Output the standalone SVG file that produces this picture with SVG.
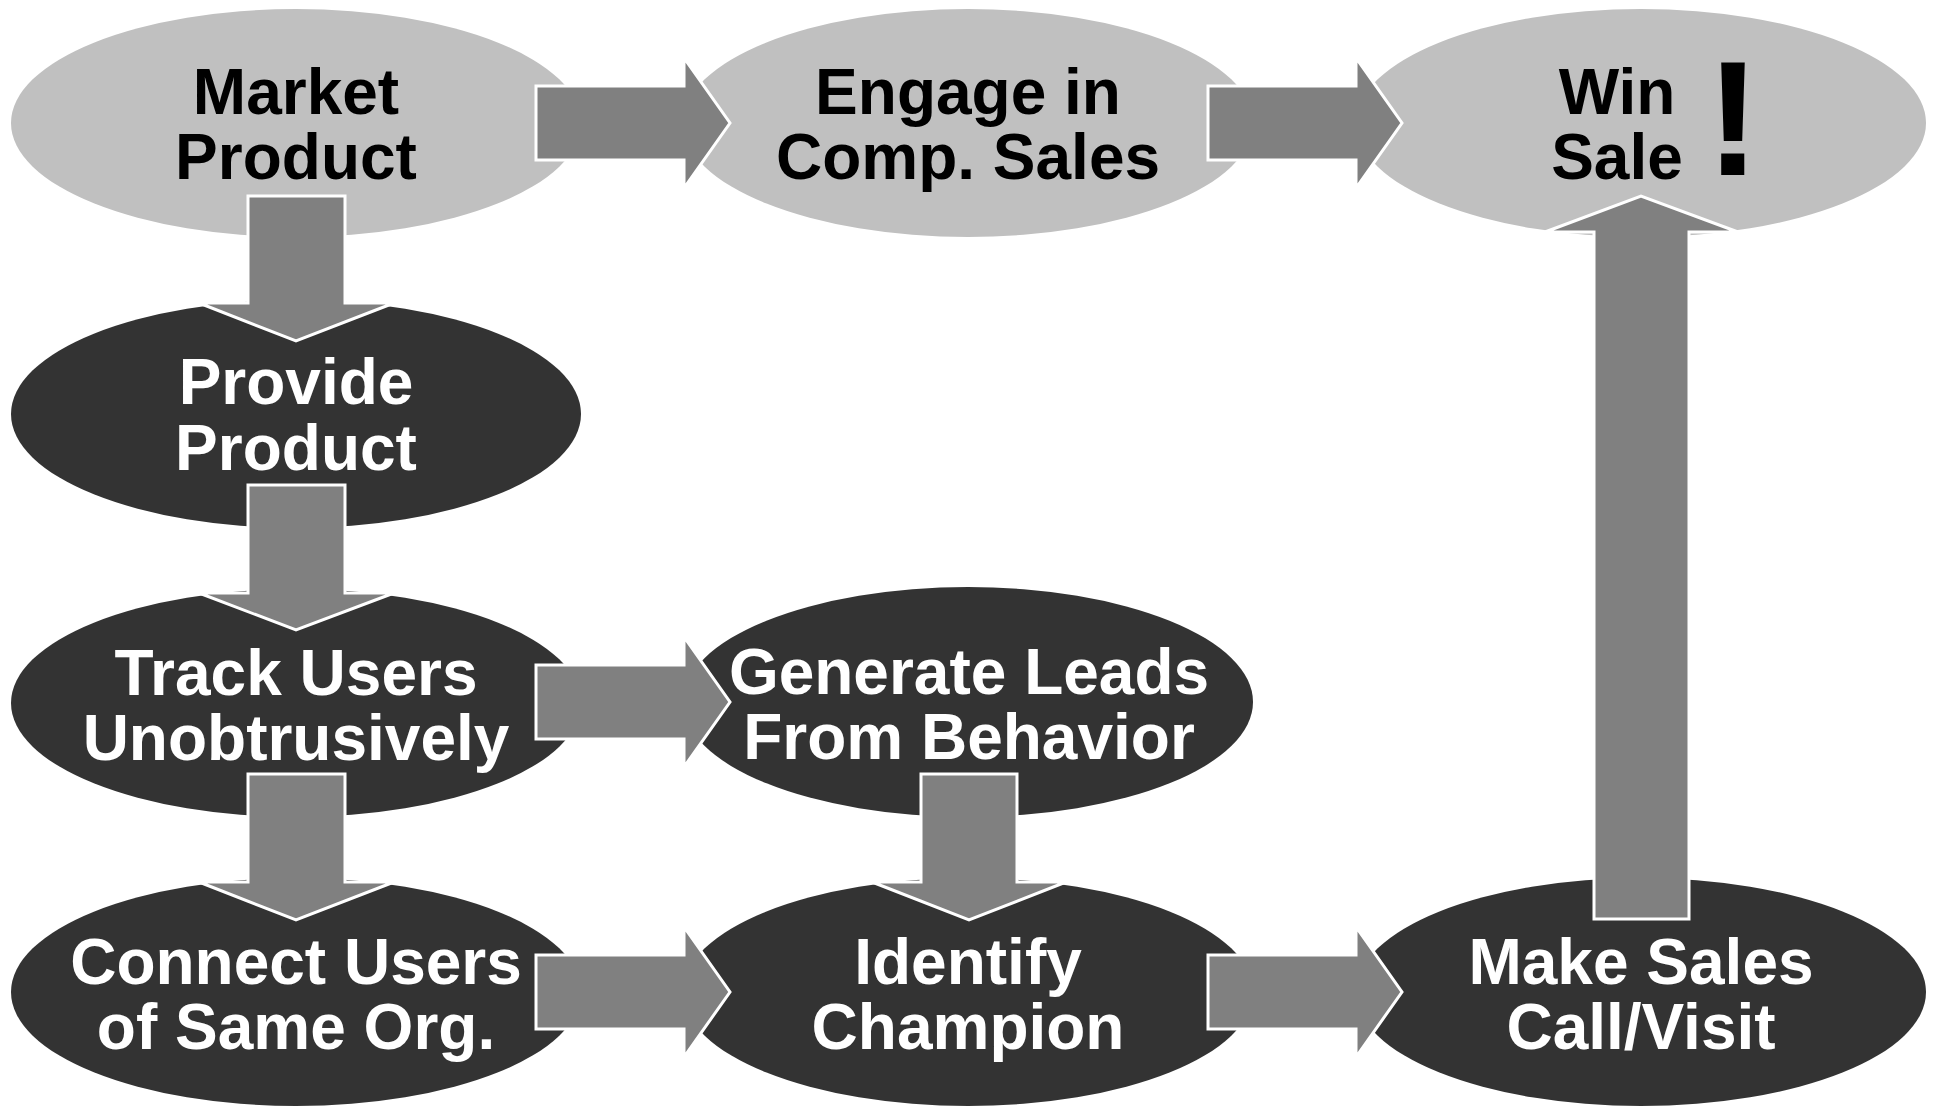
<svg xmlns="http://www.w3.org/2000/svg" width="1933" height="1106" viewBox="0 0 1933 1106">
<style>
.light{fill:#c0c0c0}
.dark{fill:#333333}
.arrow{fill:#808080;stroke:#ffffff;stroke-width:3;stroke-linejoin:miter}
text{font-family:"Liberation Sans",Arial,sans-serif;font-weight:bold;font-size:64px;text-anchor:middle}
.tl{fill:#000000}
.td{fill:#ffffff}
</style>
<rect width="1933" height="1106" fill="#ffffff"/>
<g id="node-market">
<ellipse class="light" cx="296" cy="123" rx="285" ry="114"/>
<text class="tl" x="296" y="114">Market</text>
<text class="tl" x="296" y="179">Product</text>
</g>
<g id="node-engage">
<ellipse class="light" cx="968" cy="123" rx="285" ry="114"/>
<text class="tl" x="968" y="114">Engage in</text>
<text class="tl" x="968" y="179">Comp. Sales</text>
</g>
<g id="node-win">
<ellipse class="light" cx="1641" cy="123" rx="285" ry="114"/>
<text class="tl" x="1617" y="114">Win</text>
<text class="tl" x="1617" y="179">Sale</text>
<text class="tl" x="1733" y="175" style="font-size:164px">!</text>
</g>
<g id="node-provide">
<ellipse class="dark" cx="296" cy="414" rx="285" ry="114"/>
<text class="td" x="296" y="404">Provide</text>
<text class="td" x="296" y="470">Product</text>
</g>
<g id="node-track">
<ellipse class="dark" cx="296" cy="703" rx="285" ry="114"/>
<text class="td" x="296" y="695">Track Users</text>
<text class="td" x="296" y="760">Unobtrusively</text>
</g>
<g id="node-generate">
<ellipse class="dark" cx="968" cy="702" rx="285" ry="115"/>
<text class="td" x="969" y="694">Generate Leads</text>
<text class="td" x="969" y="759">From Behavior</text>
</g>
<g id="node-connect">
<ellipse class="dark" cx="296" cy="992" rx="285" ry="114"/>
<text class="td" x="296" y="984">Connect Users</text>
<text class="td" x="296" y="1049">of Same Org.</text>
</g>
<g id="node-identify">
<ellipse class="dark" cx="968" cy="992" rx="285" ry="114"/>
<text class="td" x="968" y="984">Identify</text>
<text class="td" x="968" y="1049">Champion</text>
</g>
<g id="node-make">
<ellipse class="dark" cx="1641" cy="992" rx="285" ry="114"/>
<text class="td" x="1641" y="984">Make Sales</text>
<text class="td" x="1641" y="1049">Call/Visit</text>
</g>
<g id="connectors">
<path class="arrow" d="M536,86 H684 V58 L730,123 L684,188 V160 H536 Z"/>
<path class="arrow" d="M1208,86 H1356 V58 L1402,123 L1356,188 V160 H1208 Z"/>
<path class="arrow" d="M536,665 H684 V637 L730,702 L684,767 V739 H536 Z"/>
<path class="arrow" d="M536,955 H684 V927 L730,992 L684,1057 V1029 H536 Z"/>
<path class="arrow" d="M1208,955 H1356 V927 L1402,992 L1356,1057 V1029 H1208 Z"/>
<path class="arrow" d="M248,196 H345 V303 H394 L296,341 L199,303 H248 Z"/>
<path class="arrow" d="M248,485 H345 V593 H394 L296,630 L199,593 H248 Z"/>
<path class="arrow" d="M248,774 H345 V882 H394 L296,920 L199,882 H248 Z"/>
<path class="arrow" d="M921,774 H1017 V882 H1066 L969,920 L872,882 H921 Z"/>
<path class="arrow" d="M1594,919 H1689 V232 H1738 L1641,196 L1545,232 H1594 Z"/>
</g>
</svg>
